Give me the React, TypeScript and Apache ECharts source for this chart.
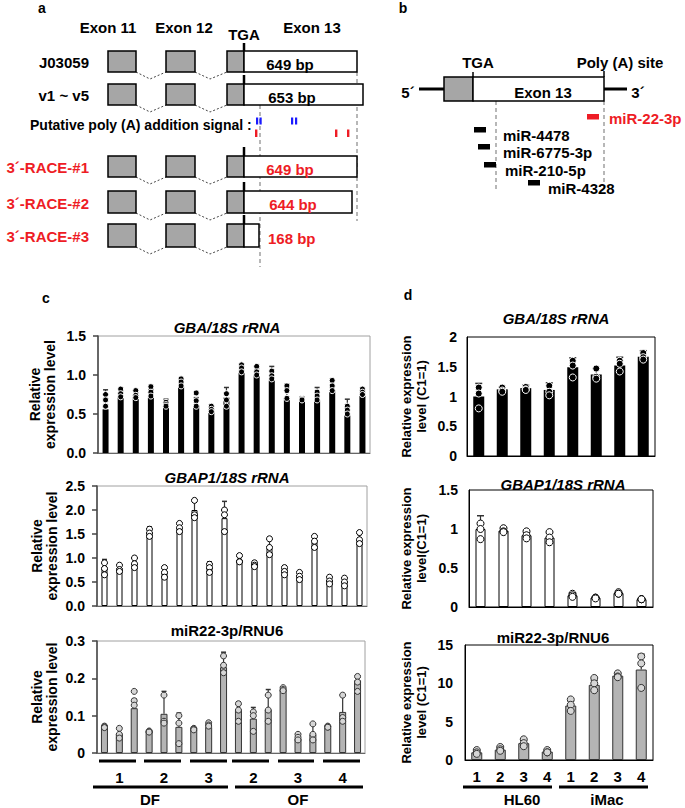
import React, { useEffect, useRef } from "react";
import * as echarts from "echarts";

const FONT = "'Liberation Sans', Arial, Helvetica, sans-serif";
const RED = "#ee1c25";

// ---------------- Panel c data (DF1, DF2, DF3, OF2, OF3, OF4; 3 samples each)
const cCategories = [
  "DF1-a", "DF1-b", "DF1-c", "DF2-a", "DF2-b", "DF2-c", "DF3-a", "DF3-b", "DF3-c",
  "OF2-a", "OF2-b", "OF2-c", "OF3-a", "OF3-b", "OF3-c", "OF4-a", "OF4-b", "OF4-c",
];
const cGroupLabels = ["1", "2", "3", "2", "3", "4"];
const cFluidLabels = ["DF", "OF"];

const cGbaMean = [0.56, 0.72, 0.71, 0.71, 0.58, 0.85, 0.61, 0.53, 0.71, 1.03, 1.0, 0.93, 0.71, 0.68, 0.68, 0.8, 0.48, 0.73];
const cGbaSd = [0.25, 0.08, 0.07, 0.1, 0.11, 0.08, 0.1, 0.06, 0.13, 0.09, 0.08, 0.18, 0.17, 0.04, 0.16, 0.13, 0.21, 0.08];
const cGbaRep1 = [0.75, 0.82, 0.8, 0.85, 0.65, 0.95, 0.77, 0.6, 0.76, 1.13, 1.11, 1.05, 0.86, 0.7, 0.78, 0.93, 0.6, 0.82];
const cGbaRep2 = [0.68, 0.76, 0.74, 0.78, 0.62, 0.91, 0.67, 0.56, 0.68, 1.09, 1.04, 0.99, 0.8, 0.69, 0.73, 0.86, 0.55, 0.78];
const cGbaRep3 = [0.6, 0.72, 0.71, 0.73, 0.6, 0.86, 0.6, 0.53, 0.6, 1.04, 1.0, 0.95, 0.7, 0.68, 0.68, 0.8, 0.5, 0.75];
const cGbaTicks = [0, 0.5, 1.0, 1.5];
const cGbaTickLabels = ["0.0", "0.5", "1.0", "1.5"];

const cGbap1Mean = [0.8, 0.78, 0.9, 1.53, 0.72, 1.62, 2.0, 0.82, 1.83, 0.96, 0.88, 1.2, 0.78, 0.66, 1.34, 0.56, 0.52, 1.37];
const cGbap1Sd = [0.17, 0.1, 0.1, 0.12, 0.1, 0.1, 0.22, 0.1, 0.35, 0.07, 0.05, 0.2, 0.06, 0.05, 0.13, 0.05, 0.08, 0.12];
const cGbap1Rep1 = [0.9, 0.85, 1.0, 1.6, 0.8, 1.72, 2.2, 0.87, 2.0, 1.05, 0.9, 1.4, 0.8, 0.7, 1.45, 0.6, 0.58, 1.53];
const cGbap1Rep2 = [0.78, 0.76, 0.88, 1.52, 0.7, 1.63, 1.9, 0.8, 1.9, 0.93, 0.85, 1.22, 0.72, 0.62, 1.35, 0.52, 0.5, 1.38];
const cGbap1Rep3 = [0.65, 0.72, 0.8, 1.45, 0.6, 1.55, 1.84, 0.7, 1.55, 0.92, 0.82, 1.07, 0.65, 0.55, 1.22, 0.46, 0.42, 1.3];
const cGbap1Ticks = [0, 0.5, 1.0, 1.5, 2.0, 2.5];
const cGbap1TickLabels = ["0.0", "0.5", "1.0", "1.5", "2.0", "2.5"];

const cMirMean = [0.07, 0.052, 0.12, 0.058, 0.105, 0.07, 0.063, 0.07, 0.23, 0.115, 0.092, 0.116, 0.17, 0.04, 0.05, 0.068, 0.11, 0.195];
const cMirSd = [0.004, 0.012, 0.025, 0.003, 0.06, 0.037, 0.003, 0.008, 0.04, 0.022, 0.03, 0.054, 0.005, 0.01, 0.025, 0.004, 0.045, 0.012];
const cMirRep1 = [0.072, 0.066, 0.165, 0.059, 0.155, 0.1, 0.066, 0.081, 0.26, 0.132, 0.11, 0.155, 0.175, 0.05, 0.078, 0.072, 0.155, 0.205];
const cMirRep2 = [0.07, 0.05, 0.14, 0.057, 0.085, 0.08, 0.064, 0.075, 0.235, 0.115, 0.1, 0.115, 0.17, 0.042, 0.05, 0.07, 0.095, 0.19];
const cMirRep3 = [0.068, 0.04, 0.128, 0.056, 0.08, 0.025, 0.062, 0.072, 0.215, 0.085, 0.058, 0.085, 0.167, 0.035, 0.035, 0.069, 0.085, 0.165];
const cMirTicks = [0, 0.1, 0.2, 0.3];
const cMirTickLabels = ["0", "0.1", "0.2", "0.3"];

// ---------------- Panel d data (HL60 1-4, iMac 1-4)
const dCategories = ["HL60-1", "HL60-2", "HL60-3", "HL60-4", "iMac-1", "iMac-2", "iMac-3", "iMac-4"];
const dCellLabels = ["HL60", "iMac"];

const dGbaMean = [1.0, 1.12, 1.14, 1.11, 1.49, 1.37, 1.52, 1.67];
const dGbaSd = [0.22, 0.04, 0.05, 0.12, 0.16, 0.1, 0.14, 0.1];
const dGbaRep1 = [1.15, 1.15, 1.16, 1.18, 1.6, 1.47, 1.6, 1.73];
const dGbaRep2 = [1.05, 1.1, 1.12, 1.08, 1.52, 1.33, 1.55, 1.66];
const dGbaRep3 = [0.8, 1.08, 1.11, 1.02, 1.32, 1.3, 1.42, 1.62];
const dGbaTicks = [0, 0.5, 1, 1.5, 2];
const dGbaTickLabels = ["0", "0.5", "1", "1.5", "2"];

const dGbap1Mean = [1.0, 0.98, 0.92, 0.89, 0.15, 0.12, 0.18, 0.1];
const dGbap1Sd = [0.17, 0.03, 0.05, 0.06, 0.02, 0.01, 0.01, 0.01];
const dGbap1Rep1 = [1.07, 1.01, 0.97, 0.96, 0.17, 0.12, 0.19, 0.1];
const dGbap1Rep2 = [1.0, 0.97, 0.92, 0.89, 0.15, 0.12, 0.17, 0.1];
const dGbap1Rep3 = [0.87, 0.96, 0.88, 0.83, 0.13, 0.11, 0.17, 0.1];
const dGbap1Ticks = [0, 0.5, 1, 1.5];
const dGbap1TickLabels = ["0", "0.5", "1", "1.5"];

const dMirMean = [1.0, 1.35, 2.2, 1.1, 7.1, 9.8, 11.0, 11.8];
const dMirSd = [0.3, 0.3, 0.4, 0.2, 0.6, 0.6, 0.3, 2.0];
const dMirRep1 = [1.3, 1.7, 2.7, 1.3, 7.9, 10.7, 11.3, 13.5];
const dMirRep2 = [1.0, 1.4, 2.2, 1.0, 7.2, 10.0, 10.9, 12.6];
const dMirRep3 = [0.8, 1.2, 1.8, 1.0, 6.4, 9.1, 10.8, 9.4];
const dMirTicks = [0, 5, 10, 15];
const dMirTickLabels = ["0", "5", "10", "15"];

// ---------------- Diagram texts
const aHeaders = ["Exon 11", "Exon 12", "TGA", "Exon 13"];
const aRowLabels = ["J03059", "v1 ~ v5", "3´-RACE-#1", "3´-RACE-#2", "3´-RACE-#3"];
const aRowLengths = ["649 bp", "653 bp", "649 bp", "644 bp", "168 bp"];
const aSignalLabel = "Putative poly (A) addition signal :";
const bMirs = ["miR-22-3p", "miR-4478", "miR-6775-3p", "miR-210-5p", "miR-4328"];

// ---------------- Panel definitions (data + styles)
const panels = [
  { cats: cCategories, mean: cGbaMean, sd: cGbaSd, reps: [cGbaRep1, cGbaRep2, cGbaRep3], ticks: cGbaTicks, tickLabels: cGbaTickLabels, title: "GBA/18S rRNA", italic: true, yName: "Relative\nexpression level", kind: "c", fill: "black" },
  { cats: cCategories, mean: cGbap1Mean, sd: cGbap1Sd, reps: [cGbap1Rep1, cGbap1Rep2, cGbap1Rep3], ticks: cGbap1Ticks, tickLabels: cGbap1TickLabels, title: "GBAP1/18S rRNA", italic: true, yName: "Relative\nexpression level", kind: "c", fill: "white" },
  { cats: cCategories, mean: cMirMean, sd: cMirSd, reps: [cMirRep1, cMirRep2, cMirRep3], ticks: cMirTicks, tickLabels: cMirTickLabels, title: "miR22-3p/RNU6", italic: false, yName: "Relative\nexpression level", kind: "c", fill: "gray", xLabels: "c" },
  { cats: dCategories, mean: dGbaMean, sd: dGbaSd, reps: [dGbaRep1, dGbaRep2, dGbaRep3], ticks: dGbaTicks, tickLabels: dGbaTickLabels, title: "GBA/18S rRNA", italic: true, yName: "Relative expression\nlevel (C1=1)", kind: "d", fill: "black" },
  { cats: dCategories, mean: dGbap1Mean, sd: dGbap1Sd, reps: [dGbap1Rep1, dGbap1Rep2, dGbap1Rep3], ticks: dGbap1Ticks, tickLabels: dGbap1TickLabels, title: "GBAP1/18S rRNA", italic: true, yName: "Relative expression\nlevel(C1=1)", kind: "d", fill: "white" },
  { cats: dCategories, mean: dMirMean, sd: dMirSd, reps: [dMirRep1, dMirRep2, dMirRep3], ticks: dMirTicks, tickLabels: dMirTickLabels, title: "miR22-3p/RNU6", italic: false, yName: "Relative expression\nlevel (C1=1)", kind: "d", fill: "gray", xLabels: "d" },
];

// ---------------- Layout (pixels)
const layouts = [
  { left: 98, top: 336, width: 272, height: 117, titleX: 227, titleY: 327, nameGap: 41, labelMargin: 12, barWidth: 6, dot: 6 },
  { left: 97, top: 486, width: 270, height: 120, titleX: 227, titleY: 477, nameGap: 38, labelMargin: 12, barWidth: 6, dot: 6 },
  { left: 97, top: 641, width: 268, height: 112, titleX: 227, titleY: 630, nameGap: 38, labelMargin: 12, barWidth: 7, dot: 6 },
  { left: 467, top: 337, width: 188, height: 119, titleX: 556, titleY: 318, nameGap: 38, labelMargin: 10, barWidth: 11, dot: 7 },
  { left: 469, top: 490, width: 184, height: 117, titleX: 563, titleY: 484, nameGap: 40, labelMargin: 11, barWidth: 10, dot: 7 },
  { left: 465, top: 645, width: 188, height: 115, titleX: 553, titleY: 637, nameGap: 36, labelMargin: 12, barWidth: 11, dot: 7 },
];

const fillStyles: any = {
  black: { bar: { color: "#000" }, dot: { color: "#000", borderColor: "#fff", borderWidth: 1 } },
  white: { bar: { color: "#fff", borderColor: "#000", borderWidth: 1 }, dot: { color: "#fff", borderColor: "#000", borderWidth: 1 } },
  gray: { bar: { color: "#b4b4b4", borderColor: "#333", borderWidth: 1 }, dot: { color: "#d6d6d6", borderColor: "#333", borderWidth: 1 } },
};

// ---------------- graphic helpers
function T(text: string, x: number, y: number, o: any = {}) {
  const align = o.align || "center";
  return {
    type: "text",
    silent: true,
    z: 20,
    x,
    y,
    style: {
      text,
      fill: o.color || "#000",
      fontSize: o.size || 15,
      fontWeight: o.weight || "bold",
      fontStyle: o.italic ? "italic" : "normal",
      fontFamily: FONT,
      align,
      verticalAlign: "middle",
      textAlign: align,
      textVerticalAlign: "middle",
    },
  };
}
function R(x: number, y: number, w: number, h: number, fill: string, stroke: string | null = "#000", lw = 1.5) {
  return { type: "rect", silent: true, z: 15, shape: { x, y, width: w, height: h }, style: { fill, stroke, lineWidth: lw } };
}
function L(x1: number, y1: number, x2: number, y2: number, stroke = "#000", lw = 1, dash?: number[]) {
  return { type: "line", silent: true, z: 14, shape: { x1, y1, x2, y2 }, style: { stroke, lineWidth: lw, lineDash: dash || null } };
}
function PL(points: number[][], stroke = "#333", lw = 1, dash?: number[]) {
  return { type: "polyline", silent: true, z: 14, shape: { points }, style: { stroke, lineWidth: lw, lineDash: dash || null, fill: null } };
}

function diagramGraphics() {
  const g: any[] = [];
  // panel letters
  g.push(T("a", 42, 8, { size: 14 }));
  g.push(T("b", 403, 8, { size: 14 }));
  g.push(T("c", 46, 298, { size: 14 }));
  g.push(T("d", 408, 295, { size: 14 }));

  // ---- panel a
  const hx = [108, 184, 244, 312];
  const hy = [27, 27, 34, 27];
  aHeaders.forEach((h, i) => g.push(T(h, hx[i], hy[i], { size: 15 })));

  const rows = [
    { y: 51, h: 21, end: 357, tga: 43, bpX: 290, bpAlign: "center", red: false },
    { y: 84, h: 21, end: 363, tga: 75, bpX: 292, bpAlign: "center", red: false },
    { y: 156, h: 21, end: 357, tga: 147, bpX: 290, bpAlign: "center", red: true },
    { y: 191, h: 22, end: 352, tga: 182, bpX: 293, bpAlign: "center", red: true },
    { y: 224, h: 23, end: 259, tga: 215, bpX: 268, bpAlign: "left", red: true },
  ];
  rows.forEach((r, i) => {
    const col = r.red ? RED : "#000";
    g.push(T(aRowLabels[i], 89, r.y + r.h / 2 + 1, { align: "right", color: col, size: 15 }));
    g.push(R(108, r.y, 28, r.h, "#a6a6a6"));
    g.push(R(166, r.y, 29, r.h, "#a6a6a6"));
    g.push(R(227, r.y, 17, r.h, "#a6a6a6"));
    g.push(R(244, r.y, r.end - 244, r.h, "#fff"));
    g.push(L(244, r.tga, 244, r.y + r.h, "#000", 2.5));
    const yb = r.y + r.h;
    g.push(PL([[136, yb], [150, yb + 7], [166, yb]], "#444", 1, [2, 2]));
    g.push(PL([[195, yb], [210, yb + 7], [227, yb]], "#444", 1, [2, 2]));
    g.push(T(aRowLengths[i], r.bpX, r.y + r.h / 2 + 2.5, { align: r.bpAlign, color: col, size: 15 }));
  });
  // dashed guide lines
  g.push(L(260, 105, 260, 267, "#888", 1.2, [4, 3]));
  g.push(L(357, 72, 357, 221, "#888", 1.2, [4, 3]));
  // poly(A) signal
  g.push(T(aSignalLabel, 30, 125, { align: "left", size: 14 }));
  [256, 259.5, 291, 295].forEach((x) => g.push(R(x, 117.5, 2.2, 7, "#1a1aff", null, 0)));
  [255, 335, 347].forEach((x) => g.push(R(x, 129.5, 2.4, 7.5, RED, null, 0)));

  // ---- panel b
  g.push(L(419, 89, 444, 89, "#000", 3));
  g.push(L(604, 89, 627, 89, "#000", 3));
  g.push(T("5´", 408, 92, { size: 15 }));
  g.push(T("3´", 638, 92, { size: 15 }));
  g.push(R(444, 77, 29, 24, "#a6a6a6"));
  g.push(R(473, 77, 131, 24, "#fff"));
  g.push(L(473, 72, 473, 77, "#000", 1.5));
  g.push(L(604, 71, 604, 77, "#000", 1.5));
  g.push(T("TGA", 478, 62, { size: 15 }));
  g.push(T("Poly (A) site", 620, 62, { size: 15 }));
  g.push(T("Exon 13", 543, 92, { size: 15 }));
  g.push(L(496, 101, 496, 191, "#888", 1.2, [4, 3]));
  g.push(L(604, 101, 604, 191, "#888", 1.2, [4, 3]));
  const mirMarks = [
    { x: 587, y: 114, tx: 609, ty: 118, red: true },
    { x: 474, y: 127, tx: 503, ty: 135, red: false },
    { x: 478, y: 144, tx: 503, ty: 152, red: false },
    { x: 484, y: 162, tx: 505, ty: 170, red: false },
    { x: 528, y: 180, tx: 548, ty: 188, red: false },
  ];
  mirMarks.forEach((m, i) => {
    const col = m.red ? RED : "#000";
    g.push(R(m.x, m.y, 12, 5.5, col, null, 0));
    g.push(T(bMirs[i], m.tx, m.ty, { align: "left", color: col, size: 15 }));
  });

  // ---- panel c group annotation
  const cShort = [[99, 136], [144, 181], [190, 227], [232, 269], [278, 314], [323, 360]];
  cShort.forEach(([a, b]) => g.push(L(a, 761, b, 761, "#000", 3)));
  g.push(L(93, 787, 228, 787, "#000", 3));
  g.push(L(235, 787, 363, 787, "#000", 3));
  g.push(T(cFluidLabels[0], 150, 799, { size: 15 }));
  g.push(T(cFluidLabels[1], 298, 799, { size: 15 }));

  // ---- panel d group annotation
  g.push(L(463, 787, 552, 787, "#000", 3));
  g.push(L(559, 787, 648, 787, "#000", 3));
  g.push(T(dCellLabels[0], 522, 799, { size: 15 }));
  g.push(T(dCellLabels[1], 607, 799, { size: 15 }));
  return g;
}

function buildOption() {
  const grid: any[] = [];
  const xAxis: any[] = [];
  const yAxis: any[] = [];
  const series: any[] = [];
  const graphic: any[] = diagramGraphics();

  panels.forEach((p: any, i) => {
    const lay = layouts[i];
    const isC = p.kind === "c";
    const fs = fillStyles[p.fill];
    grid.push({
      left: lay.left,
      top: lay.top,
      width: lay.width,
      height: lay.height,
      show: true,
      borderColor: isC ? "#a0a0a0" : "#000",
      borderWidth: 1,
      backgroundColor: "transparent",
      containLabel: false,
      outerBoundsMode: "none",
    });
    let axisLabel: any = { show: false };
    if (p.xLabels === "c") {
      axisLabel = {
        show: true,
        interval: 0,
        margin: 17,
        fontSize: 15,
        fontWeight: "bold",
        fontFamily: FONT,
        color: "#000",
        formatter: (_v: string, idx: number) => (idx % 3 === 1 ? cGroupLabels[Math.floor(idx / 3)] : ""),
      };
    } else if (p.xLabels === "d") {
      axisLabel = {
        show: true,
        interval: 0,
        margin: 9,
        fontSize: 15,
        fontWeight: "bold",
        fontFamily: FONT,
        color: "#000",
        formatter: (v: string) => v.split("-")[1],
      };
    }
    xAxis.push({
      type: "category",
      gridIndex: i,
      data: p.cats,
      boundaryGap: true,
      axisLine: { show: true, lineStyle: { color: isC ? "#666" : "#000", width: 1 } },
      axisTick: { show: false },
      axisLabel,
      splitLine: { show: false },
    });
    const ticks: number[] = p.ticks;
    yAxis.push({
      type: "value",
      gridIndex: i,
      min: ticks[0],
      max: ticks[ticks.length - 1],
      interval: ticks[1] - ticks[0],
      axisLine: { show: true, lineStyle: { color: isC ? "#444" : "#000", width: isC ? 1.5 : 1 } },
      axisTick: { show: isC, inside: false, length: 5, lineStyle: { color: "#444", width: 1.5 } },
      axisLabel: {
        margin: lay.labelMargin,
        fontSize: 14,
        fontWeight: "bold",
        fontFamily: FONT,
        color: "#000",
        formatter: (v: number) => {
          const k = ticks.findIndex((t) => Math.abs(t - v) < 1e-9);
          return k >= 0 ? p.tickLabels[k] : "";
        },
      },
      splitLine: { show: false },
      name: p.yName,
      nameLocation: "middle",
      nameRotate: 90,
      nameGap: lay.nameGap,
      nameTextStyle: { fontSize: isC ? 14 : 13, fontWeight: "bold", fontFamily: FONT, color: "#000", lineHeight: 15 },
    });
    series.push({
      type: "bar",
      xAxisIndex: i,
      yAxisIndex: i,
      data: p.mean,
      barWidth: lay.barWidth,
      itemStyle: fs.bar,
      z: 2,
      silent: true,
    });
    const capW = isC ? 5 : 7;
    series.push({
      type: "custom",
      xAxisIndex: i,
      yAxisIndex: i,
      z: 3,
      silent: true,
      encode: { x: 0, y: [1, 2] },
      data: p.mean.map((m: number, k: number) => [k, m, m + p.sd[k]]),
      renderItem: (_params: any, api: any) => {
        const b = api.coord([api.value(0), api.value(1)]);
        const t = api.coord([api.value(0), api.value(2)]);
        return {
          type: "group",
          children: [
            { type: "line", shape: { x1: b[0], y1: b[1], x2: t[0], y2: t[1] }, style: { stroke: "#333", lineWidth: 1.2 } },
            { type: "line", shape: { x1: t[0] - capW / 2, y1: t[1], x2: t[0] + capW / 2, y2: t[1] }, style: { stroke: "#333", lineWidth: 1.5 } },
          ],
        };
      },
    });
    const pts: number[][] = [];
    p.reps.forEach((rep: number[]) => rep.forEach((v, k) => pts.push([k, v])));
    series.push({
      type: "scatter",
      xAxisIndex: i,
      yAxisIndex: i,
      data: pts,
      symbol: "circle",
      symbolSize: lay.dot,
      itemStyle: { ...fs.dot, opacity: 1 },
      z: 4,
      silent: true,
    });
    graphic.push(T(p.title, lay.titleX, lay.titleY, { italic: p.italic, size: 15 }));
  });

  return {
    animation: false,
    backgroundColor: "#fff",
    textStyle: { fontFamily: FONT },
    grid,
    xAxis,
    yAxis,
    series,
    graphic,
  };
}

export default function App() {
  const ref = useRef<HTMLDivElement>(null);
  useEffect(() => {
    if (!ref.current) return;
    const chart = echarts.init(ref.current, null, { renderer: "svg" });
    chart.setOption(buildOption() as any);
    return () => chart.dispose();
  }, []);
  return (
    <div
      ref={ref}
      style={{ position: "absolute", left: 0, top: 0, width: 685, height: 808, background: "#fff" }}
    />
  );
}
